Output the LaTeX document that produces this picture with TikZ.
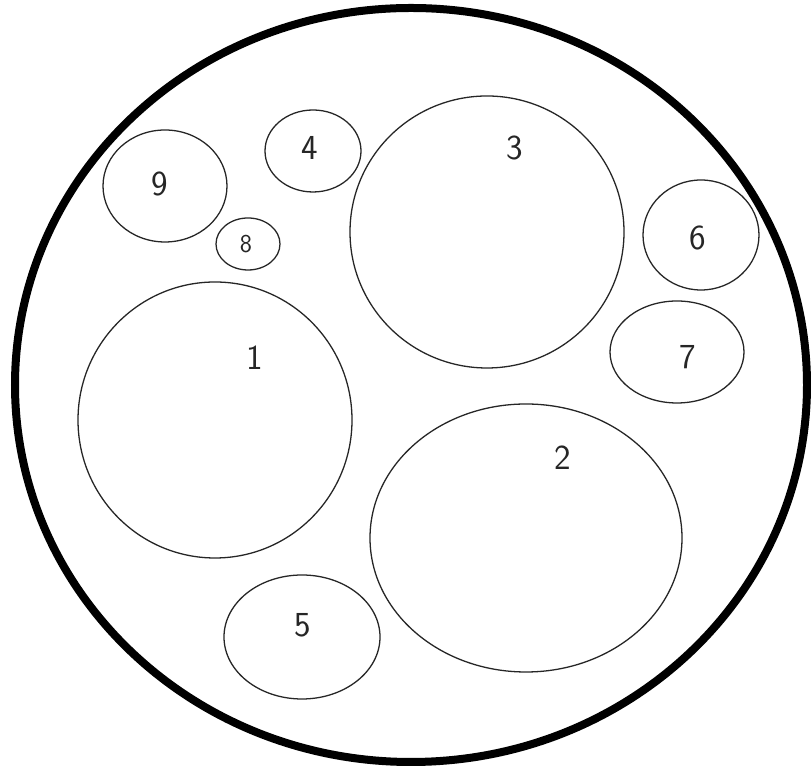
\documentclass[tikz,border=0pt]{standalone}
\usepackage{tikz}
\usetikzlibrary{shapes.geometric}

\tikzset{
  blob/.style 2 args={draw=black!85,ellipse,line width=1.1pt,inner sep=0pt,
    minimum width=#1*0.03cm,minimum height=#2*0.03cm},
  num/.style={font=\sffamily\fontsize{30}{30}\selectfont,text=black!85}
}

\begin{document}
\begin{tikzpicture}[x=0.03cm,y=0.03cm]
\useasboundingbox (0,0) rectangle (811,768);
\fill[white] (0,0) rectangle (811,768);
\draw[line width=0.24cm] (411,383) ellipse (396 and 377);
\node[blob={124}{112}] (b9) at (165,582) {};
\node[num] (n9) at (160,584) {9};
\node[blob={96}{82}] (b4) at (313,617) {};
\node[num] (n4) at (310,620) {4};
\node[blob={64}{52}] (b8) at (248,524) {};
\node[num,font=\sffamily\fontsize{22}{22}\selectfont] (n8) at (246,524) {8};
\node[blob={274}{272}] (b3) at (487,536) {};
\node[num] (n3) at (515,620) {3};
\node[blob={116}{110}] (b6) at (701,533) {};
\node[num] (n6) at (698,530) {6};
\node[blob={134}{102}] (b7) at (677,416) {};
\node[num] (n7) at (688,411) {7};
\node[blob={274}{276}] (b1) at (215,348) {};
\node[num] (n1) at (255,410) {1};
\node[blob={312}{268}] (b2) at (526,230) {};
\node[num] (n2) at (563,310) {2};
\node[blob={156}{124}] (b5) at (302,131) {};
\node[num] (n5) at (303,143) {5};
\end{tikzpicture}
\end{document}
